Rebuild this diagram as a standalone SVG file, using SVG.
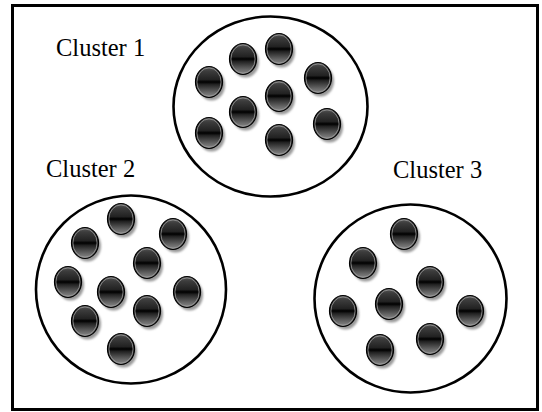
<svg xmlns="http://www.w3.org/2000/svg" width="542" height="412" viewBox="0 0 542 412">
  <defs>
    <linearGradient id="dotGrad" x1="0" y1="0" x2="0" y2="1">
      <stop offset="0" stop-color="#5a5a5a"/>
      <stop offset="0.15" stop-color="#3c3c3c"/>
      <stop offset="0.42" stop-color="#222222"/>
      <stop offset="0.5" stop-color="#000000"/>
      <stop offset="0.58" stop-color="#222222"/>
      <stop offset="0.85" stop-color="#6a6a6a"/>
      <stop offset="1" stop-color="#8a8a8a"/>
    </linearGradient>
    <filter id="blur" x="-30%" y="-30%" width="160%" height="160%">
      <feGaussianBlur stdDeviation="1.2"/>
    </filter>
    <g id="dot">
      <ellipse cx="2.5" cy="3" rx="13.5" ry="15.5" fill="#9a9a9a" filter="url(#blur)"/>
      <ellipse cx="0" cy="0" rx="13.5" ry="15.5" fill="url(#dotGrad)" stroke="#000" stroke-width="1.2"/>
      <ellipse cx="0" cy="0" rx="12.1" ry="14.1" fill="none" stroke="#9a9a9a" stroke-width="0.8"/>
    </g>
  </defs>
  <style>
    .frame { fill: #ffffff; stroke: #000; stroke-width: 3; }
    .cluster { fill: #ffffff; stroke: #000; stroke-width: 2.6; }
    .label { font-family: "Liberation Serif", "Times New Roman", serif; font-size: 24.5px; fill: #000; }
  </style>
  <rect x="0" y="0" width="542" height="412" fill="#ffffff"/>
  <rect class="frame" x="12.5" y="5.5" width="525" height="404"/>

  <g id="cluster1">
    <ellipse class="cluster" cx="270.5" cy="106.5" rx="97" ry="90"/>
    <use href="#dot" x="209" y="82"/>
    <use href="#dot" x="243" y="59"/>
    <use href="#dot" x="279" y="49"/>
    <use href="#dot" x="318" y="78"/>
    <use href="#dot" x="279" y="96"/>
    <use href="#dot" x="243" y="112"/>
    <use href="#dot" x="209" y="133"/>
    <use href="#dot" x="279" y="140"/>
    <use href="#dot" x="327" y="124"/>
    <text class="label" x="56" y="56">Cluster 1</text>
  </g>

  <g id="cluster2">
    <ellipse class="cluster" cx="131" cy="289.5" rx="95" ry="94"/>
    <use href="#dot" x="121" y="219"/>
    <use href="#dot" x="85" y="243"/>
    <use href="#dot" x="173" y="234"/>
    <use href="#dot" x="147" y="263"/>
    <use href="#dot" x="68" y="282"/>
    <use href="#dot" x="111" y="292"/>
    <use href="#dot" x="187" y="292"/>
    <use href="#dot" x="147" y="311"/>
    <use href="#dot" x="85" y="321"/>
    <use href="#dot" x="121" y="349"/>
    <text class="label" x="46" y="177">Cluster 2</text>
  </g>

  <g id="cluster3">
    <ellipse class="cluster" cx="410.5" cy="298.5" rx="96" ry="94"/>
    <use href="#dot" x="404" y="234"/>
    <use href="#dot" x="363" y="263"/>
    <use href="#dot" x="430" y="282"/>
    <use href="#dot" x="343" y="311"/>
    <use href="#dot" x="389" y="304"/>
    <use href="#dot" x="470" y="311"/>
    <use href="#dot" x="430" y="339"/>
    <use href="#dot" x="380" y="350"/>
    <text class="label" x="393" y="178">Cluster 3</text>
  </g>

  <g id="connectors"/>
</svg>
